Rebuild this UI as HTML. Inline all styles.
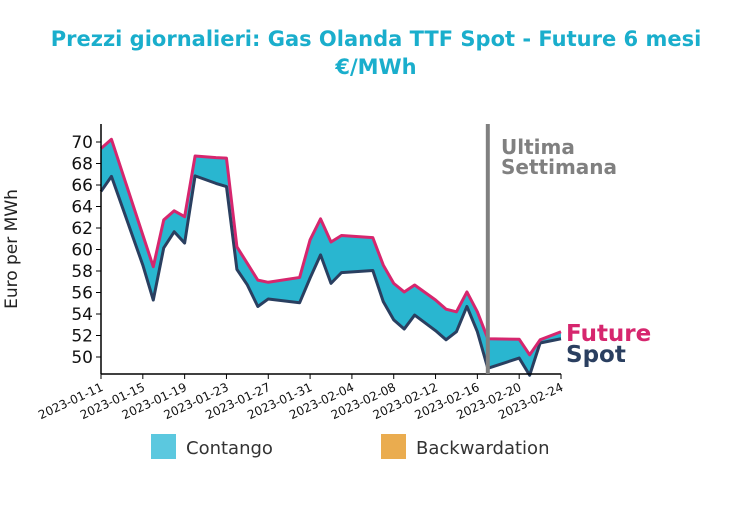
<!DOCTYPE html>
<html><head><meta charset="utf-8"><style>
body{margin:0;background:#fff;font-family:"DejaVu Sans","Liberation Sans",sans-serif}
</style></head><body>
<svg id="chart" width="752" height="504" xmlns="http://www.w3.org/2000/svg" font-family="DejaVu Sans, Liberation Sans, sans-serif">
<text x="376" y="46" text-anchor="middle" font-size="21" font-weight="bold" fill="#1aaecc">Prezzi giornalieri: Gas Olanda TTF Spot - Future 6 mesi</text>
<text x="376" y="74" text-anchor="middle" font-size="21" font-weight="bold" fill="#1aaecc">€/MWh</text>
<text transform="translate(17,249) rotate(-90)" text-anchor="middle" font-size="17" fill="#222">Euro per MWh</text>
<g id="plot"></g>
<rect x="151" y="434" width="25" height="25" fill="#5bc8df"/>
<text x="186" y="454" font-size="18" fill="#333">Contango</text>
<rect x="381" y="434" width="25" height="25" fill="#eaac4f"/>
<text x="416" y="454" font-size="18" fill="#333">Backwardation</text>
</svg>
<script>
const days = [0,1,4,5,6,7,8,9,11,12,13,14,15,16,19,20,21,22,23,26,27,28,29,30,32,33,34,35,36,37,40,41,42,44];
const future = [69.4,70.25,61.35,58.4,62.75,63.6,63.05,68.7,68.55,68.5,60.25,58.7,57.15,56.95,57.4,60.9,62.85,60.7,61.3,61.1,58.55,56.85,56.05,56.7,55.3,54.45,54.2,56.05,54.2,51.7,51.65,50.2,51.6,52.35];
const spot = [65.4,66.8,58.55,55.3,60.15,61.65,60.6,66.85,66.15,65.85,58.15,56.7,54.7,55.4,55.05,57.35,59.5,56.85,57.85,58.05,55.15,53.45,52.6,53.9,52.45,51.6,52.35,54.7,52.35,48.95,49.9,48.3,51.3,51.7];
const yTicks = [50,52,54,56,58,60,62,64,66,68,70];
const xTickLabels = ["2023-01-11","2023-01-15","2023-01-19","2023-01-23","2023-01-27","2023-01-31","2023-02-04","2023-02-08","2023-02-12","2023-02-16","2023-02-20","2023-02-24"];
const lastWeekDay = 37;

const NS="http://www.w3.org/2000/svg";
const X0=101,X1=561,Y0=124,Y1=374;
const xs=d=>X0+(d/44)*(X1-X0);
const ys=v=>142+(70-v)*10.75;
const g=document.getElementById('plot');
function mk(t,a){const e=document.createElementNS(NS,t);for(const k in a)e.setAttribute(k,a[k]);g.appendChild(e);return e;}

// fill
let pts=days.map((d,i)=>xs(d)+','+ys(future[i]));
for(let i=days.length-1;i>=0;i--)pts.push(xs(days[i])+','+ys(spot[i]));
const fill=mk('polygon',{points:pts.join(' '),fill:'#29b6d0'});



const sl=mk('polyline',{points:days.map((d,i)=>xs(d)+','+ys(spot[i])).join(' '),fill:'none',stroke:'#2a3f60','stroke-width':3,'stroke-linejoin':'round'});


const fl=mk('polyline',{points:days.map((d,i)=>xs(d)+','+ys(future[i])).join(' '),fill:'none',stroke:'#d6266e','stroke-width':3,'stroke-linejoin':'round'});



// axes
const ya=mk('line',{x1:X0,y1:Y0,x2:X0,y2:Y1,stroke:'#000','stroke-width':1.5});


const xa=mk('line',{x1:X0,y1:Y1,x2:X1,y2:Y1,stroke:'#000','stroke-width':1.5});


yTicks.forEach(v=>{
  mk('line',{x1:X0-5,y1:ys(v),x2:X0,y2:ys(v),stroke:'#000'});
  const t=mk('text',{x:X0-8,y:ys(v)+6,'text-anchor':'end','font-size':17,fill:'#111'});
  t.textContent=v;
  
  
});
xTickLabels.forEach((s,i)=>{
  const x=xs(i*4);
  mk('line',{x1:x,y1:Y1,x2:x,y2:Y1+5,stroke:'#000'});
  const t=mk('text',{x:x+3,y:Y1+16,'text-anchor':'end','font-size':12,fill:'#111',transform:`rotate(-25 ${x+3} ${Y1+16})`});
  t.textContent=s;
  
  
});
const vl=mk('line',{x1:xs(lastWeekDay),y1:Y0,x2:xs(lastWeekDay),y2:Y1,stroke:'#808080','stroke-width':4});


const a1=mk('text',{x:501,y:154,'font-size':20,'font-weight':'bold',fill:'#808080'});a1.textContent='Ultima';


const a2=mk('text',{x:501,y:174,'font-size':20,'font-weight':'bold',fill:'#808080'});a2.textContent='Settimana';


const lf=mk('text',{x:566,y:341,'font-size':23,'font-weight':'bold',fill:'#d6266e'});lf.textContent='Future';


const ls=mk('text',{x:566,y:362,'font-size':23,'font-weight':'bold',fill:'#2a3f60'});ls.textContent='Spot';


</script>
</body></html>
